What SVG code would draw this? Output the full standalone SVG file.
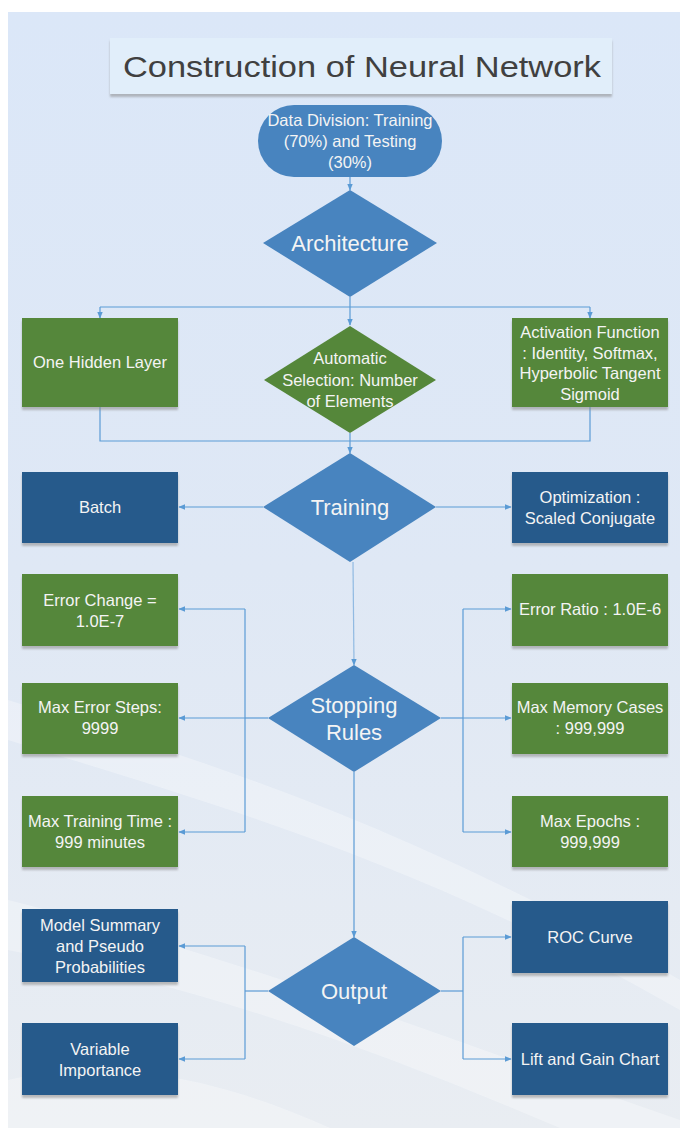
<svg xmlns="http://www.w3.org/2000/svg" width="680" height="1128" viewBox="0 0 680 1128">
<defs>
<linearGradient id="bg" x1="0" y1="0" x2="0" y2="1">
<stop offset="0" stop-color="#dbe7f8"/>
<stop offset="0.5" stop-color="#dfe8f5"/>
<stop offset="1" stop-color="#e9edf2"/>
</linearGradient>
<marker id="ah" viewBox="0 0 10 10" refX="9" refY="5" markerWidth="7" markerHeight="7" orient="auto-start-reverse" markerUnits="userSpaceOnUse">
<path d="M0,1 L10,5 L0,9 z" fill="#5b9bd5"/>
</marker>
<filter id="sh" x="-5%" y="-5%" width="110%" height="115%">
<feDropShadow dx="0" dy="3" stdDeviation="1" flood-color="#888" flood-opacity="0.55"/>
</filter>
</defs>
<style>
.t{font-family:"Liberation Sans",Arial,sans-serif;fill:#f4f4f4;text-anchor:middle;dominant-baseline:central}
.s{font-size:16.5px}
.d{font-size:22px}
.g{fill:#55873a}
.b{fill:#285a8b}
.m{fill:#4884bf}
.c{fill:none;stroke:#5b9bd5;stroke-width:1.2}
</style>
<rect x="8" y="12" width="672" height="1116" fill="url(#bg)"/>
<g fill="#ffffff" opacity="0.3">
<path d="M8,700 C200,760 400,820 680,980 L680,1010 C420,860 200,800 8,740 z"/>
<path d="M8,900 C250,960 450,1040 680,1120 L680,1128 L560,1128 C400,1060 220,990 8,950 z"/>
<path d="M8,1080 C100,1060 200,1070 330,1128 L8,1128 z"/>
</g>

<g id="title">
<rect x="110" y="38" width="502" height="56" fill="#e1eefa" filter="url(#sh)"/>
<text x="362" y="66" font-family="Liberation Sans,Arial,sans-serif" font-size="30" fill="#404040" text-anchor="middle" dominant-baseline="central" textLength="478" lengthAdjust="spacingAndGlyphs">Construction of Neural Network</text>
</g>

<g id="connectors">
<line class="c" x1="350" y1="177" x2="350" y2="190" marker-end="url(#ah)"/>
<line class="c" x1="350" y1="297" x2="350" y2="325" marker-end="url(#ah)"/>
<line class="c" x1="100" y1="307" x2="590" y2="307"/>
<line class="c" x1="100" y1="307" x2="100" y2="318" marker-end="url(#ah)"/>
<line class="c" x1="590" y1="307" x2="590" y2="318" marker-end="url(#ah)"/>
<polyline class="c" points="100,407 100,441 590,441 590,407"/>
<line class="c" x1="350" y1="433" x2="350" y2="453" marker-end="url(#ah)"/>
<line class="c" x1="263" y1="507" x2="179" y2="507" marker-end="url(#ah)"/>
<line class="c" x1="436" y1="507" x2="511" y2="507" marker-end="url(#ah)"/>
<line class="c" x1="353" y1="562" x2="354" y2="665" marker-end="url(#ah)" stroke-opacity="0.6"/>
<line class="c" x1="268" y1="718" x2="245" y2="718"/>
<line class="c" x1="245" y1="609" x2="245" y2="832"/>
<line class="c" x1="245" y1="609" x2="179" y2="609" marker-end="url(#ah)"/>
<line class="c" x1="245" y1="718" x2="179" y2="718" marker-end="url(#ah)"/>
<line class="c" x1="245" y1="832" x2="179" y2="832" marker-end="url(#ah)"/>
<line class="c" x1="441" y1="718" x2="463" y2="718"/>
<line class="c" x1="463" y1="609" x2="463" y2="832"/>
<line class="c" x1="463" y1="609" x2="511" y2="609" marker-end="url(#ah)"/>
<line class="c" x1="463" y1="718" x2="511" y2="718" marker-end="url(#ah)"/>
<line class="c" x1="463" y1="832" x2="511" y2="832" marker-end="url(#ah)"/>
<line class="c" x1="354" y1="772" x2="354" y2="937" marker-end="url(#ah)"/>
<line class="c" x1="268" y1="991" x2="245" y2="991"/>
<line class="c" x1="245" y1="946" x2="245" y2="1059"/>
<line class="c" x1="245" y1="946" x2="179" y2="946" marker-end="url(#ah)"/>
<line class="c" x1="245" y1="1059" x2="179" y2="1059" marker-end="url(#ah)"/>
<line class="c" x1="441" y1="991" x2="463" y2="991"/>
<line class="c" x1="463" y1="937" x2="463" y2="1059"/>
<line class="c" x1="463" y1="937" x2="511" y2="937" marker-end="url(#ah)"/>
<line class="c" x1="463" y1="1059" x2="511" y2="1059" marker-end="url(#ah)"/>
</g>

<g id="data-division">
<rect class="m" x="258" y="105" width="184" height="72" rx="36"/>
<text class="t s" x="350" y="120">Data Division: Training</text>
<text class="t s" x="350" y="141">(70%) and Testing</text>
<text class="t s" x="350" y="162">(30%)</text>
</g>

<g id="architecture">
<polygon class="m" points="350,190 437,243 350,297 263,243"/>
<text class="t d" x="350" y="243">Architecture</text>
</g>

<g id="one-hidden-layer">
<rect class="g" x="22" y="318" width="156" height="89" filter="url(#sh)"/>
<text class="t s" x="100" y="362">One Hidden Layer</text>
</g>

<g id="automatic-selection">
<polygon class="g" points="350,326 436,380 350,433 264,380"/>
<text class="t s" x="350" y="358">Automatic</text>
<text class="t s" x="350" y="380">Selection: Number</text>
<text class="t s" x="350" y="401">of Elements</text>
</g>

<g id="activation-function">
<rect class="g" x="512" y="318" width="156" height="89" filter="url(#sh)"/>
<text class="t s" x="590" y="332">Activation Function</text>
<text class="t s" x="590" y="353">: Identity, Softmax,</text>
<text class="t s" x="590" y="373">Hyperbolic Tangent</text>
<text class="t s" x="590" y="394">Sigmoid</text>
</g>

<g id="training">
<polygon class="m" points="350,453 436,507 350,562 263,507"/>
<text class="t d" x="350" y="507">Training</text>
</g>

<g id="batch">
<rect class="b" x="22" y="472" width="156" height="71" filter="url(#sh)"/>
<text class="t s" x="100" y="507">Batch</text>
</g>

<g id="optimization">
<rect class="b" x="512" y="472" width="156" height="71" filter="url(#sh)"/>
<text class="t s" x="590" y="497">Optimization :</text>
<text class="t s" x="590" y="518">Scaled Conjugate</text>
</g>

<g id="stopping-rules">
<polygon class="m" points="354,665 441,718 354,772 268,718"/>
<text class="t d" x="354" y="705">Stopping</text>
<text class="t d" x="354" y="732">Rules</text>
</g>

<g id="error-change">
<rect class="g" x="22" y="574" width="156" height="72" filter="url(#sh)"/>
<text class="t s" x="100" y="600">Error Change =</text>
<text class="t s" x="100" y="621">1.0E-7</text>
</g>

<g id="max-error-steps">
<rect class="g" x="22" y="683" width="156" height="71" filter="url(#sh)"/>
<text class="t s" x="100" y="707">Max Error Steps:</text>
<text class="t s" x="100" y="728">9999</text>
</g>

<g id="max-training-time">
<rect class="g" x="22" y="796" width="156" height="71" filter="url(#sh)"/>
<text class="t s" x="100" y="821">Max Training Time :</text>
<text class="t s" x="100" y="842">999 minutes</text>
</g>

<g id="error-ratio">
<rect class="g" x="512" y="574" width="156" height="72" filter="url(#sh)"/>
<text class="t s" x="590" y="609">Error Ratio : 1.0E-6</text>
</g>

<g id="max-memory-cases">
<rect class="g" x="512" y="683" width="156" height="71" filter="url(#sh)"/>
<text class="t s" x="590" y="707">Max Memory Cases</text>
<text class="t s" x="590" y="728">: 999,999</text>
</g>

<g id="max-epochs">
<rect class="g" x="512" y="796" width="156" height="71" filter="url(#sh)"/>
<text class="t s" x="590" y="821">Max Epochs :</text>
<text class="t s" x="590" y="842">999,999</text>
</g>

<g id="output">
<polygon class="m" points="354,937 441,991 354,1046 268,991"/>
<text class="t d" x="354" y="991">Output</text>
</g>

<g id="model-summary">
<rect class="b" x="22" y="909" width="156" height="73" filter="url(#sh)"/>
<text class="t s" x="100" y="925">Model Summary</text>
<text class="t s" x="100" y="946">and Pseudo</text>
<text class="t s" x="100" y="967">Probabilities</text>
</g>

<g id="variable-importance">
<rect class="b" x="22" y="1023" width="156" height="72" filter="url(#sh)"/>
<text class="t s" x="100" y="1049">Variable</text>
<text class="t s" x="100" y="1070">Importance</text>
</g>

<g id="roc-curve">
<rect class="b" x="512" y="901" width="156" height="72" filter="url(#sh)"/>
<text class="t s" x="590" y="937">ROC Curve</text>
</g>

<g id="lift-gain">
<rect class="b" x="512" y="1023" width="156" height="72" filter="url(#sh)"/>
<text class="t s" x="590" y="1059">Lift and Gain Chart</text>
</g>
</svg>
